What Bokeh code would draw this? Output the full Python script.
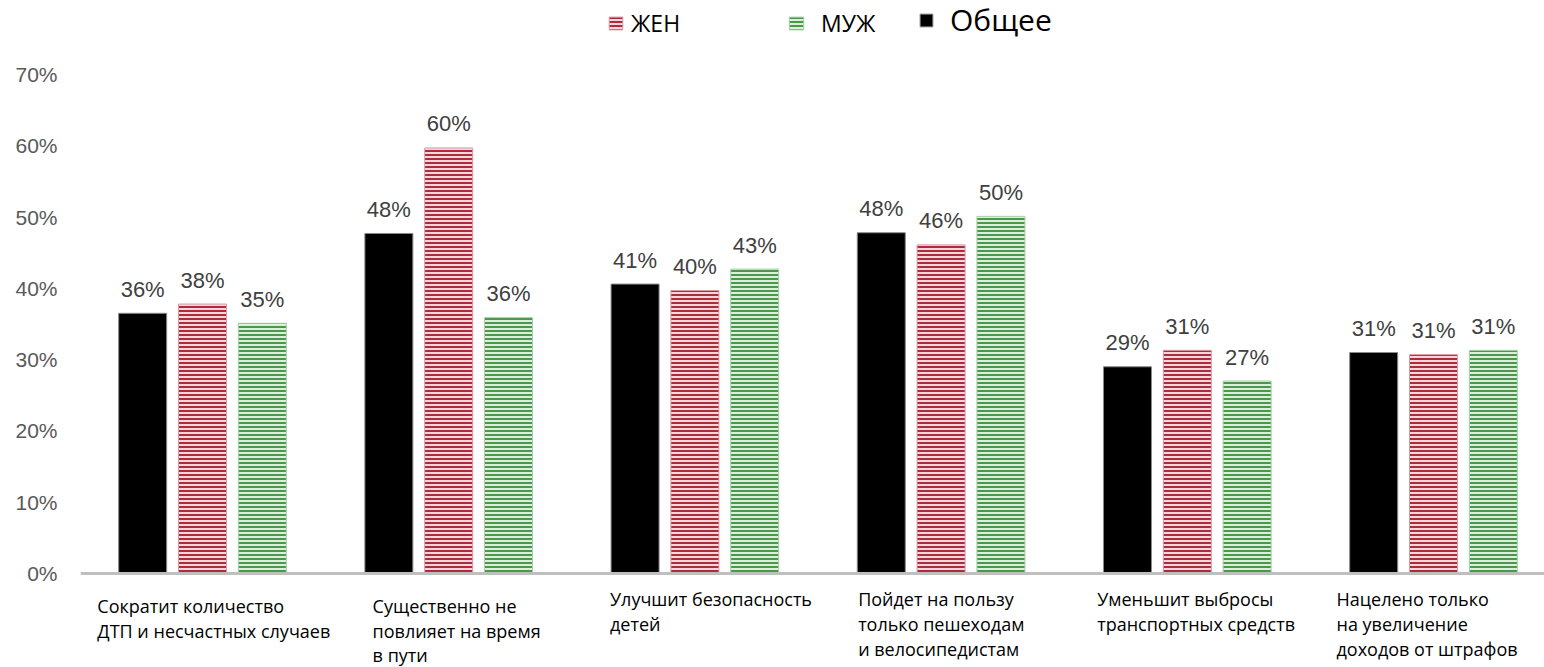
from bokeh.plotting import figure
from bokeh.models import (Range1d, FixedTicker, PrintfTickFormatter, Span, Legend,
                          LegendItem, ColumnDataSource)
from bokeh.core.properties import value
from bokeh.transform import dodge
from bokeh.embed import file_html
from bokeh.resources import INLINE

# ---------------- data ----------------
categories = [
    "Сократит количество\nДТП и несчастных случаев",
    "Существенно не\nповлияет на время\n в пути",
    "Улучшит безопасность\nдетей",
    "Пойдет на пользу\nтолько пешеходам\nи велосипедистам",
    "Уменьшит выбросы\nтранспортных средств",
    "Нацелено только\nна увеличение\nдоходов от штрафов",
]
total = [36.5, 47.7, 40.6, 47.8, 29.0, 31.0]      # Общее
women = [37.8, 59.7, 39.7, 46.1, 31.3, 30.7]      # ЖЕН
men = [35.1, 35.9, 42.7, 50.1, 27.0, 31.3]        # МУЖ
total_labels = ["36%", "48%", "41%", "48%", "29%", "31%"]
women_labels = ["38%", "60%", "40%", "46%", "31%", "31%"]
men_labels = ["35%", "36%", "43%", "50%", "27%", "31%"]
y_ticks = [0, 10, 20, 30, 40, 50, 60, 70]

# ---------------- layout (not data) ----------------
idx = list(range(len(categories)))
label_dx = [-0.427, -0.309, -0.345, -0.337, -0.366, -0.394]
BAR_W = 0.195
OFF = 0.243

src = ColumnDataSource(dict(
    x=idx, total=total, women=women, men=men,
    tl=total_labels, wl=women_labels, ml=men_labels,
))

p = figure(width=1544, height=667, output_backend="svg", toolbar_location=None,
           x_range=Range1d(-0.4955, 5.4508), y_range=Range1d(-13.19, 80.38),
           min_border_left=80, min_border_right=0, min_border_top=0, min_border_bottom=0,
           x_axis_location=None)
p.outline_line_color = None
p.xgrid.visible = False
p.ygrid.visible = False
p.background_fill_color = "white"

# y axis
p.yaxis.ticker = FixedTicker(ticks=y_ticks)
p.yaxis.formatter = PrintfTickFormatter(format="%d%%")
p.yaxis.axis_line_color = None
p.yaxis.major_tick_line_color = None
p.yaxis.minor_tick_line_color = None
p.yaxis.major_label_standoff = 17
p.yaxis.major_label_text_font = "Liberation Sans"
p.yaxis.major_label_text_font_size = "21px"
p.yaxis.major_label_text_color = "#595959"

# baseline
p.add_layout(Span(location=0, dimension="width", line_color="#BFBFBF", line_width=3))

r_total = p.vbar(x=dodge("x", -OFF), top="total", width=BAR_W, bottom=0, source=src,
                 fill_color="black", line_color="#8a8a8a", line_width=1)
r_women = p.vbar(x=dodge("x", 0), top="women", width=BAR_W, bottom=0, source=src,
                 fill_color="#F4D6DA", line_color="#D99AA3", line_width=1,
                 hatch_pattern="horizontal_line", hatch_color="#B02A3D",
                 hatch_scale=4, hatch_weight=2)
r_men = p.vbar(x=dodge("x", OFF), top="men", width=BAR_W, bottom=0, source=src,
               fill_color="#DCEEDC", line_color="#A8CFA8", line_width=1,
               hatch_pattern="horizontal_line", hatch_color="#4A994A",
               hatch_scale=4, hatch_weight=2)

lab_kw = dict(text_align="center", text_baseline="alphabetic", y_offset=-24,
              text_font=value("Liberation Sans"), text_font_size="22px",
              text_color="#404040", source=src)
p.text(x=dodge("x", -OFF), y="total", text="tl", **lab_kw)
p.text(x=dodge("x", 0), y="women", text="wl", **lab_kw)
p.text(x=dodge("x", OFF), y="men", text="ml", **lab_kw)

# category labels
cat_x = [i + d for i, d in zip(idx, label_dx)]
p.text(x=cat_x[:2], y=[0, 0], text=categories[:2], text_align="left", text_baseline="top",
       y_offset=21, text_font=value("Open Sans"), text_font_size="18px",
       text_color="black", text_line_height=1.02)
p.text(x=cat_x[2:], y=[0] * 4, text=categories[2:], text_align="left", text_baseline="top",
       y_offset=14, text_font=value("Open Sans"), text_font_size="18px",
       text_color="black", text_line_height=1.03)

# legends
def mk_legend(label, rend, loc, size, gw, gh, standoff):
    lg = Legend(items=[LegendItem(label=label, renderers=[rend])], location=loc,
                orientation="horizontal", padding=0, margin=0, spacing=0,
                border_line_color=None, background_fill_alpha=0,
                glyph_width=gw, glyph_height=gh, label_standoff=standoff,
                label_text_font="Open Sans", label_text_font_size=size,
                label_text_color="black", click_policy="none")
    p.add_layout(lg)

mk_legend("ЖЕН", r_women, (527, 628), "23px", 17, 16, 7)
mk_legend("МУЖ", r_men, (707, 628), "23px", 18, 16, 16)
mk_legend("Общее", r_total, (838, 627), "30px", 16, 16, 16)

open("out.html", "w").write(file_html(p, INLINE))
